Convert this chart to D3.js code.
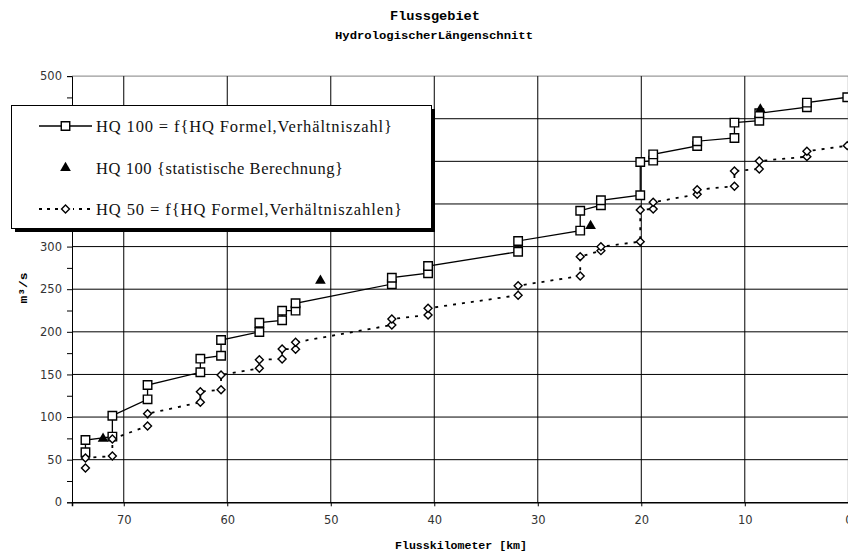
<!DOCTYPE html>
<html><head><meta charset="utf-8">
<script src="https://cdn.jsdelivr.net/npm/d3@7"></script>
<style>body{margin:0;background:#fff}svg{display:block}</style>
</head><body>
<script>
// ---- data ----
const titleMain = "Flussgebiet";
const titleSub = "HydrologischerLängenschnitt";
const xLabel = "Flusskilometer [km]";
const yLabel = "m³/s";
const xTicks = [70, 60, 50, 40, 30, 20, 10, 0];
const yTicks = [0, 50, 100, 150, 200, 250, 300, 350, 400, 450, 500];
const seriesNames = ["HQ 100 = f{HQ Formel,Verhältniszahl}", "HQ 100 {statistische Berechnung}", "HQ 50 = f{HQ Formel,Verhältniszahlen}"];

const stationKm = [73.7,73.7,71.1,71.1,67.7,67.7,62.6,62.6,60.6,60.6,56.9,56.9,54.7,54.7,53.4,53.4,44.1,44.1,40.6,40.6,31.9,31.9,25.9,25.9,23.9,23.9,20.1,20.1,18.85,18.85,14.6,14.6,11.0,11.0,8.6,8.6,4.0,4.0,0.1];
const hq100 = [58.7,73.1,77,101.6,120.8,137.6,152.5,168.5,172,190.4,199.8,210.7,213.5,224.8,224.8,233.5,256,263.5,268.7,277.2,294,306.6,318.7,342.1,348.5,354.3,360.2,399.3,400.8,408.2,418,423.6,427.4,445.4,447.6,456.4,463.5,468.9,475.2];
const hq50 = [40.2,52,54.3,74.3,89.5,104,117.3,129.8,132.1,149.4,157.2,167.3,168.1,179.9,179.5,187.7,208,215,219.8,227.6,242.9,254.1,265.5,288.2,295.2,299.9,305.8,343,344.1,352,361.4,366.8,370.8,388.7,391.1,400.4,405.5,411.8,418.4];
const statKm = [72.0, 51.0, 24.9, 8.5];
const statHq100 = [74.6, 260, 324.2, 461];

// ---- chart ----
const W = 848, H = 552;
const svg = d3.select("body").append("svg").attr("width", W).attr("height", H);
const x = d3.scaleLinear().domain([75, 0]).range([72, 848.3]);
const y = d3.scaleLinear().domain([0, 500]).range([502.3, 76.1]);

// gridlines
const g = svg.append("g");
g.selectAll(".hg").data(yTicks.filter(v => v > 0)).join("line")
  .attr("x1", x(75)).attr("x2", x(0)).attr("y1", d => y(d)).attr("y2", d => y(d))
  .attr("stroke", d => d === 500 ? "#808080" : "#000").attr("stroke-width", 1);
g.selectAll(".vg").data(xTicks).join("line")
  .attr("x1", d => x(d)).attr("x2", d => x(d)).attr("y1", y(0)).attr("y2", y(500))
  .attr("stroke", d => d === 0 ? "#808080" : "#000").attr("stroke-width", 1);

// axes
const yAxis = d3.axisLeft(y).tickValues(d3.range(0, 501, 25)).tickSize(5)
  .tickFormat(d => d % 50 === 0 ? d : "").tickPadding(5);
const ya = svg.append("g").attr("transform", `translate(${x(75)},0)`).call(yAxis);
ya.select(".domain").attr("stroke", "#000");
ya.selectAll(".tick line").attr("stroke", "#000");
ya.selectAll("text").attr("font-family", "DejaVu Sans").attr("font-size", 11.5).attr("fill", "#333");

const xAxis = d3.axisBottom(x).tickValues(xTicks).tickSize(4).tickPadding(10);
const xa = svg.append("g").attr("transform", `translate(0,${y(0)})`).call(xAxis);
xa.select(".domain").attr("stroke", "#000").attr("stroke-width", 1.5);
xa.selectAll(".tick line").attr("stroke", "#000");
xa.selectAll("text").attr("font-family", "DejaVu Sans").attr("font-size", 11.5).attr("fill", "#333");

// series data
const s100 = stationKm.map((k, i) => ({k, v: hq100[i]}));
const s50 = stationKm.map((k, i) => ({k, v: hq50[i]}));
const sStat = statKm.map((k, i) => ({k, v: statHq100[i]}));
const line = d3.line().x(d => x(d.k)).y(d => y(d.v));

svg.append("path").datum(s100).attr("d", line).attr("fill", "none").attr("stroke", "#000").attr("stroke-width", 1.3);
svg.append("path").datum(s50).attr("d", line).attr("fill", "none").attr("stroke", "#000")
  .attr("stroke-width", 1.8).attr("stroke-dasharray", "3,6");

const sq = d3.symbol().type(d3.symbolSquare).size(72);
const dia = d3.symbol().type(d3.symbolDiamond2).size(40);
const tri = d3.symbol().type(d3.symbolTriangle).size(50);

svg.selectAll(".sq").data(s100).join("path").attr("d", sq)
  .attr("transform", d => `translate(${x(d.k)},${y(d.v)})`)
  .attr("fill", "#fff").attr("stroke", "#000").attr("stroke-width", 1.4);
svg.selectAll(".di").data(s50).join("path").attr("d", dia)
  .attr("transform", d => `translate(${x(d.k)},${y(d.v)})`)
  .attr("fill", "#fff").attr("stroke", "#000").attr("stroke-width", 1.4);
svg.selectAll(".tr").data(sStat).join("path").attr("d", tri)
  .attr("transform", d => `translate(${x(d.k)},${y(d.v)})`)
  .attr("fill", "#000");

// titles
svg.append("text").text(titleMain).attr("x", 435).attr("y", 20).attr("text-anchor", "middle")
  .attr("font-family", "Liberation Mono").attr("font-weight", "bold").attr("font-size", 13)
  .attr("textLength", 90).attr("lengthAdjust", "spacingAndGlyphs");
svg.append("text").text(titleSub).attr("x", 434).attr("y", 39).attr("text-anchor", "middle")
  .attr("font-family", "Liberation Mono").attr("font-weight", "bold").attr("font-size", 11.5)
  .attr("textLength", 198).attr("lengthAdjust", "spacingAndGlyphs");
svg.append("text").text(xLabel).attr("x", 461).attr("y", 549).attr("text-anchor", "middle")
  .attr("font-family", "Liberation Mono").attr("font-weight", "bold").attr("font-size", 11.5)
  .attr("textLength", 132).attr("lengthAdjust", "spacingAndGlyphs");
svg.append("text").text(yLabel).attr("transform", "translate(27,288) rotate(-90)").attr("text-anchor", "middle")
  .attr("font-family", "Liberation Mono").attr("font-weight", "bold").attr("font-size", 11.5)
  .attr("textLength", 31).attr("lengthAdjust", "spacingAndGlyphs");

// legend
const lg = svg.append("g");
lg.append("rect").attr("x", 15).attr("y", 109).attr("width", 420).attr("height", 123).attr("fill", "#000");
lg.append("rect").attr("x", 11.5).attr("y", 105.5).attr("width", 420).attr("height", 123)
  .attr("fill", "#fff").attr("stroke", "#000").attr("stroke-width", 1);
const rows = [126, 168, 209];
const widths = [296, 247, 306];
lg.append("line").attr("x1", 39).attr("x2", 92).attr("y1", rows[0]).attr("y2", rows[0]).attr("stroke", "#000").attr("stroke-width", 1.3);
lg.append("path").attr("d", sq).attr("transform", `translate(65.5,${rows[0]})`).attr("fill", "#fff").attr("stroke", "#000").attr("stroke-width", 1.4);
lg.append("path").attr("d", tri).attr("transform", `translate(65.5,${rows[1]})`).attr("fill", "#000");
lg.append("line").attr("x1", 39).attr("x2", 95).attr("y1", rows[2]).attr("y2", rows[2]).attr("stroke", "#000").attr("stroke-width", 1.8).attr("stroke-dasharray", "3,5");
lg.append("rect").attr("x", 58).attr("y", rows[2] - 6).attr("width", 15).attr("height", 12).attr("fill", "#fff");
lg.append("path").attr("d", dia).attr("transform", `translate(65.5,${rows[2]})`).attr("fill", "#fff").attr("stroke", "#000").attr("stroke-width", 1.4);
seriesNames.forEach((t, i) => {
  lg.append("text").text(t).attr("x", 96).attr("y", rows[i] + 6)
    .attr("font-family", "Liberation Serif").attr("font-size", 16.5).attr("fill", "#111")
    .attr("textLength", widths[i]).attr("lengthAdjust", "spacing");
});
</script>
</body></html>
